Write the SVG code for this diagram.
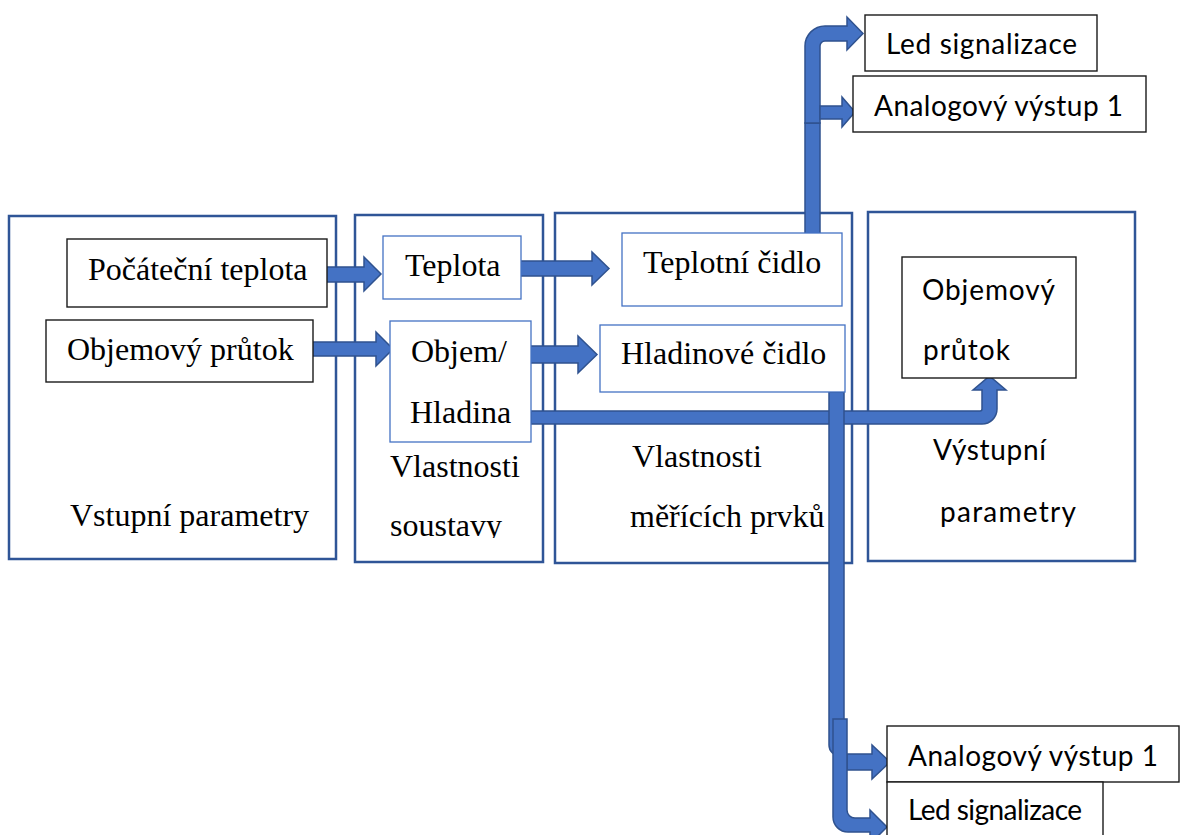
<svg xmlns="http://www.w3.org/2000/svg" width="1186" height="835" viewBox="0 0 1186 835">
<style>
.cont{fill:none;stroke:#2F5597;stroke-width:2.5}
.bbox{fill:#fff;stroke:#4472C4;stroke-width:1.3}
.kbox{fill:#fff;stroke:#1a1a1a;stroke-width:1.4}
.arr{fill:#4472C4;stroke:#2F528F;stroke-width:1.5;stroke-linejoin:miter}
.serif{font-family:"Liberation Serif","Times New Roman",serif;font-size:32px;fill:#000}
.sans{font-family:Lato,"Open Sans","Liberation Sans",sans-serif;font-size:28px;fill:#000}
</style>
<defs>
<clipPath id="clipSoust"><rect x="380" y="480" width="160" height="58"/></clipPath>
</defs>
<rect width="1186" height="835" fill="#fff"/>

<g id="vstupni-parametry">
<rect class="cont" x="9" y="216" width="327" height="343"/>
<text class="serif" x="70" y="526">Vstupní parametry</text>
</g>
<g id="vlastnosti-soustavy">
<rect class="cont" x="355" y="215" width="188" height="347"/>
<text class="serif" x="390" y="477">Vlastnosti</text>
<text class="serif" x="390" y="536" clip-path="url(#clipSoust)">soustavy</text>
</g>
<g id="vlastnosti-merici">
<rect class="cont" x="555" y="213" width="297" height="350"/>
<text class="serif" x="632" y="467">Vlastnosti</text>
<text class="serif" x="630" y="527">měřících prvků</text>
</g>
<g id="vystupni-parametry">
<rect class="cont" x="868" y="212" width="267" height="349"/>
<text class="sans" x="933" y="460" font-size="29" textLength="113">Výstupní</text>
<text class="sans" x="940" y="522" font-size="29" textLength="136">parametry</text>
</g>

<g id="connectors">
<path class="arr" d="M312,267 H364 V257 L381,274 L364,291 V282 H312 Z"/>
<path class="arr" d="M296,342 H376 V332 L393,349 L376,366 V356 H296 Z"/>
<path class="arr" d="M514,261 H592 V252 L609,268.5 L592,285 V276 H514 Z"/>
<path class="arr" d="M512,346 H578 V336 L597,354.5 L578,373 V363 H512 Z"/>
<path class="arr" d="M531,411 H980 Q982,411 982,409 V390 H973 L989.5,376 L1006,390 H997 V409 A15,15 0 0 1 982,424 H531 Z"/>
<rect class="arr" x="805" y="123" width="15" height="112"/>
<path class="arr" d="M805,123 V46 A20,20 0 0 1 825,26 H847 V17 L863,33.5 L847,50 V41 H825 A5,5 0 0 0 820,46 V123 Z"/>
<path class="arr" d="M820,106 H842 V97 L855,112 L842,127 V119 H820 Z"/>
<path class="arr" d="M829,392 H844 V756 H840 A11,11 0 0 1 829,745 Z"/>
<path class="arr" d="M847,754 H872 V745 L890,762 L872,779 V770 H847 Z"/>
<path class="arr" d="M833,719 H847 V810 A8,8 0 0 0 855,818 H870 V810 L887,827 L870,844 V832 H848 A15,15 0 0 1 833,817 Z"/>
</g>

<g id="pocatecni-teplota">
<rect class="kbox" x="67" y="239" width="260" height="68"/>
<text class="serif" x="88" y="280">Počáteční teplota</text>
</g>
<g id="objemovy-prutok-in">
<rect class="kbox" x="46" y="320" width="267" height="62"/>
<text class="serif" x="67" y="360">Objemový průtok</text>
</g>
<g id="teplota">
<rect class="bbox" x="383" y="236" width="138" height="63"/>
<text class="serif" x="405" y="276">Teplota</text>
</g>
<g id="objem-hladina">
<rect class="bbox" x="390" y="321" width="141" height="121"/>
<text class="serif" x="411" y="362">Objem/</text>
<text class="serif" x="410" y="423">Hladina</text>
</g>
<g id="teplotni-cidlo">
<rect class="bbox" x="622" y="233" width="220" height="73"/>
<text class="serif" x="643" y="273">Teplotní čidlo</text>
</g>
<g id="hladinove-cidlo">
<rect class="bbox" x="600" y="325" width="245" height="67"/>
<text class="serif" x="621" y="364">Hladinové čidlo</text>
</g>
<g id="objemovy-prutok-out">
<rect class="kbox" x="902" y="257" width="174" height="121"/>
<text class="sans" x="922" y="300" font-size="29" textLength="133">Objemový</text>
<text class="sans" x="923" y="360" font-size="29" textLength="87">průtok</text>
</g>
<g id="led-signalizace-top">
<rect class="kbox" x="865" y="15" width="232" height="56"/>
<text class="sans" x="886" y="54" textLength="191">Led signalizace</text>
</g>
<g id="analogovy-vystup-top">
<rect class="kbox" x="853" y="76" width="293" height="56"/>
<text class="sans" x="874" y="116" textLength="249">Analogový výstup 1</text>
</g>
<g id="analogovy-vystup-bottom">
<rect class="kbox" x="887" y="726" width="292" height="56"/>
<text class="sans" x="908" y="766" textLength="250">Analogový výstup 1</text>
</g>
<g id="led-signalizace-bottom">
<rect class="kbox" x="887" y="782" width="216" height="60"/>
<text class="sans" x="908" y="820" font-size="25" textLength="174">Led signalizace</text>
</g>
</svg>
